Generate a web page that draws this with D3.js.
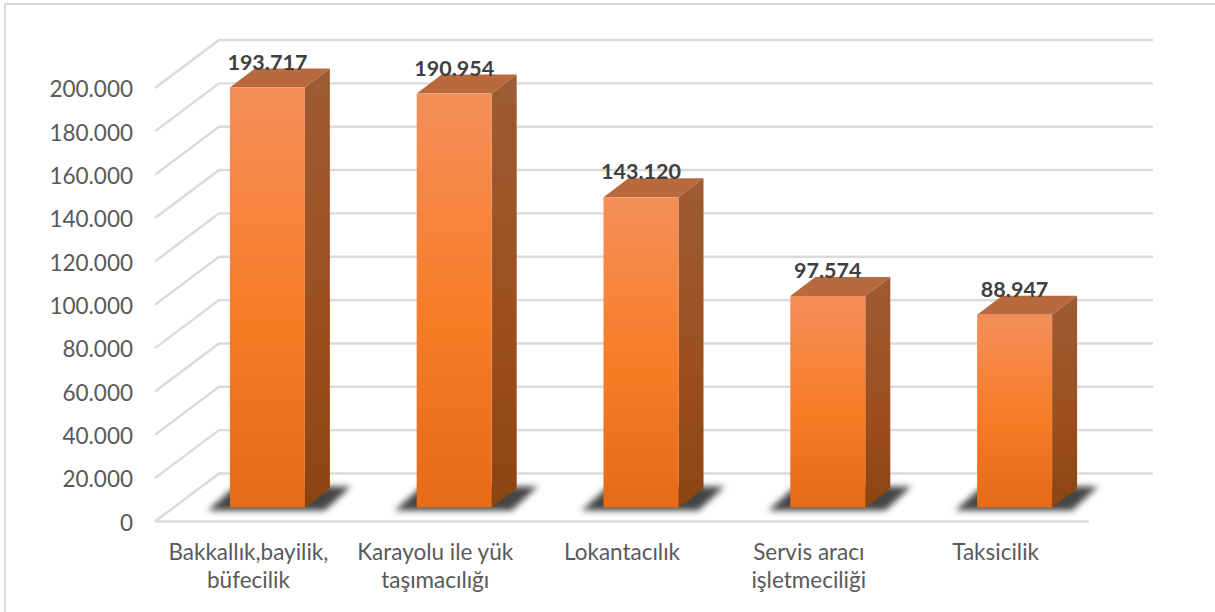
<!DOCTYPE html>
<html>
<head>
<meta charset="utf-8">
<script src="https://cdn.jsdelivr.net/npm/d3@7"></script>
<style>
  html, body { margin: 0; padding: 0; background: #fff; overflow: hidden; }
  text { font-family: Lato, sans-serif; }
</style>
</head>
<body>
<script>
var categories = [["Bakkallık,bayilik,", "büfecilik"], ["Karayolu ile yük", "taşımacılığı"], ["Lokantacılık"], ["Servis aracı", "işletmeciliği"], ["Taksicilik"]];
var values = [193717, 190954, 143120, 97574, 88947];
var yTicks = [0, 20000, 40000, 60000, 80000, 100000, 120000, 140000, 160000, 180000, 200000];

var width = 1215, height = 612;
var wallX = 64, wallY = 48;       // floor depth of the 3d box
var barDx = 25, barDy = 19;       // depth of one bar
var barInset = 14;                // bars stand a little behind the front edge
var barW = 75;

var svg = d3.select("body").append("svg").attr("width", width).attr("height", height);
var defs = svg.append("defs");

function gradient(id, stops) {
  var g = defs.append("linearGradient").attr("id", id).attr("x1", 0).attr("y1", 0).attr("x2", 0).attr("y2", 1);
  stops.forEach(function(s) {
    g.append("stop").attr("offset", s[0]).attr("stop-color", s[1]);
  });
}
gradient("front", [[0, "#f48f5a"], [0.55, "#f77c26"], [1, "#e56b18"]]);
gradient("side", [[0, "#9d5c34"], [0.55, "#9c5020"], [1, "#8c440f"]]);
defs.append("filter").attr("id", "blur").attr("x", "-20%").attr("y", "-50%").attr("width", "140%").attr("height", "200%")
    .append("feGaussianBlur").attr("stdDeviation", 3.2);

var y = d3.scaleLinear().domain([0, 200000]).range([521.5, 88]);
var x = d3.scaleBand().domain(d3.range(categories.length)).range([155, 1089]);
var fmt = d3.formatLocale({ decimal: ",", thousands: ".", grouping: [3], currency: ["", ""] }).format(",");

/* outer chart frame, only left and top show */
svg.append("path").attr("d", "M5 612V4H1215").attr("fill", "none").attr("stroke", "#d9d9d9").attr("stroke-width", 2);

/* back wall and side wall lines */
var grid = svg.append("g").attr("fill", "none").attr("stroke", "#dadada").attr("stroke-width", 2.4);
grid.selectAll("path").data(yTicks).enter().append("path")
    .attr("d", function(d) {
      var p = y(d);
      return "M155 " + p + "L" + (155 + wallX) + " " + (p - wallY) + "H" + (1089 + wallX);
    });
grid.append("path").attr("d", "M155 " + y(0) + "H1089");

/* y axis labels */
var yAxis = svg.append("g").attr("transform", "translate(140,1.5)")
    .call(d3.axisLeft(y).tickValues(yTicks).tickFormat(fmt).tickSize(0).tickPadding(7));
yAxis.select(".domain").remove();
yAxis.selectAll("text").attr("font-size", 22.5).attr("fill", "#595959").style("font-family", "Lato, sans-serif");

/* bars */
function barX(i) { return x(i) + x.bandwidth() / 2 - barW / 2 + 19; }
var bottom = y(0) - barInset;
var bars = svg.selectAll(".bar").data(values).enter().append("g").attr("class", "bar");

bars.append("path")
    .attr("d", function(d, i) {
      var l = barX(i);
      return "M" + (l - 22) + " " + (bottom + 3) + "H" + (l + barW + 20) + "L" + (l + barW + 46) + " " + (bottom - 21) + "H" + (l + 5) + "Z";
    })
    .attr("fill", "#454545")
    .attr("filter", "url(#blur)");

bars.append("path")
    .attr("d", function(d, i) {
      var l = barX(i), t = bottom - (y(0) - y(d));
      return "M" + l + " " + t + "l" + barDx + " " + (-barDy) + "h" + barW + "l" + (-barDx) + " " + barDy + "Z";
    })
    .attr("fill", "#b8693e");

bars.append("path")
    .attr("d", function(d, i) {
      var r = barX(i) + barW, t = bottom - (y(0) - y(d));
      return "M" + r + " " + t + "l" + barDx + " " + (-barDy) + "V" + (bottom - barDy) + "l" + (-barDx) + " " + barDy + "Z";
    })
    .attr("fill", "url(#side)");

bars.append("rect")
    .attr("x", function(d, i) { return barX(i); })
    .attr("y", function(d) { return bottom - (y(0) - y(d)); })
    .attr("width", barW)
    .attr("height", function(d) { return y(0) - y(d); })
    .attr("fill", "url(#front)");

/* value labels */
bars.append("text")
    .attr("x", function(d, i) { return barX(i) + barW / 2; })
    .attr("y", function(d) { return bottom - (y(0) - y(d)) - barDy + 1; })
    .attr("text-anchor", "middle")
    .attr("font-size", 21.5)
    .attr("font-weight", "bold")
    .attr("fill", "#404040")
    .text(function(d) { return fmt(d); });

/* category labels */
var labels = svg.selectAll(".cat").data(categories).enter().append("text")
    .attr("class", "cat")
    .attr("text-anchor", "middle")
    .attr("font-size", 22.5)
    .attr("fill", "#595959");
labels.selectAll("tspan").data(function(d, i) {
      return d.map(function(s, j) { return { s: s, i: i, j: j }; });
    }).enter().append("tspan")
    .attr("x", function(d) { return x(d.i) + x.bandwidth() / 2; })
    .attr("y", function(d) { return 560 + d.j * 28; })
    .text(function(d) { return d.s; });
</script>
</body>
</html>
